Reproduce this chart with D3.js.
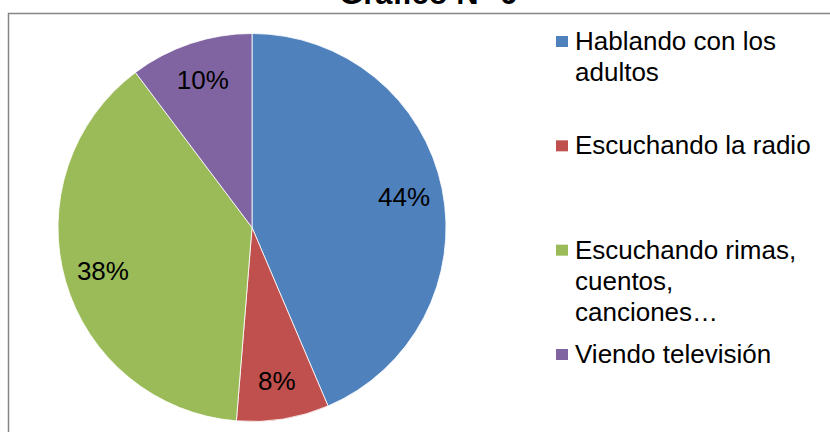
<html>
    <head>
        <meta charset='UTF-8'>
        <script src="https://d3js.org/d3.v7.min.js"></script>
        <style>
            body { margin: 0; background: #ffffff; }
            text { font-family: "Liberation Sans", Arial, sans-serif; }
        </style>
    </head>
    <body>
        <svg id="chart" width="830" height="432"></svg>

        <script>
            // data (answers out of 39)
            const categories = ['Hablando con los adultos', 'Escuchando la radio', 'Escuchando rimas, cuentos, canciones…', 'Viendo televisión'];
            const counts = [17, 3, 15, 4];
            const labels = ['44%', '8%', '38%', '10%'];
            const legendLines = [['Hablando con los', 'adultos'], ['Escuchando la radio'], ['Escuchando rimas,', 'cuentos,', 'canciones…'], ['Viendo televisión']];
            const colors = ['#4F81BD', '#C0504D', '#9BBB59', '#8064A2'];
            const title = 'Gráfico N° 6';

            let svg = d3.select('svg#chart');

            // title, mostly cut off at the top (as in the original)
            svg.append('text')
               .attr('x', 428)
               .attr('y', 3.5)
               .attr('text-anchor', 'middle')
               .style('font-size', '31px')
               .style('font-weight', 'bold')
               .text(title);

            // chart frame (right and bottom fall outside the window)
            svg.append('rect')
               .attr('x', 8.5)
               .attr('y', 13.5)
               .attr('width', 840)
               .attr('height', 440)
               .style('fill', 'none')
               .style('stroke', '#868686')
               .style('stroke-width', 1.5);

            let cx = 252, cy = 227.5, r = 194;

            let pie = d3.pie().sort(null).value(d => d);
            let arcs = pie(counts);
            let arc = d3.arc().innerRadius(0).outerRadius(r);
            let labelArc = d3.arc().innerRadius(r * 0.8).outerRadius(r * 0.8);

            let g = svg.append('g').attr('transform', `translate(${cx},${cy})`);

            g.selectAll('path')
             .data(arcs)
             .enter()
             .append('path')
             .attr('d', arc)
             .style('fill', (d, i) => colors[i])
             .style('stroke', '#ffffff')
             .style('stroke-width', 0.8);

            g.selectAll('text.lbl')
             .data(arcs)
             .enter()
             .append('text')
             .attr('class', 'lbl')
             .attr('transform', d => `translate(${labelArc.centroid(d)})`)
             .attr('text-anchor', 'middle')
             .attr('dy', '0.35em')
             .style('font-size', '26px')
             .style('fill', '#000000')
             .text((d, i) => labels[i]);

            // legend, entries spread evenly down the right side
            let legendY = d3.scaleLinear().domain([0, categories.length - 1]).range([50, 363]);

            categories.forEach((c, i) => {
                let y0 = legendY(i);
                svg.append('rect')
                   .attr('x', 556)
                   .attr('y', y0 - 14)
                   .attr('width', 12)
                   .attr('height', 11)
                   .style('fill', colors[i]);
                legendLines[i].forEach((line, j) => {
                    svg.append('text')
                       .attr('x', 575)
                       .attr('y', y0 + j * 31)
                       .style('font-size', '26px')
                       .style('fill', '#000000')
                       .text(line);
                });
            });
        </script>
    </body>
</html>
